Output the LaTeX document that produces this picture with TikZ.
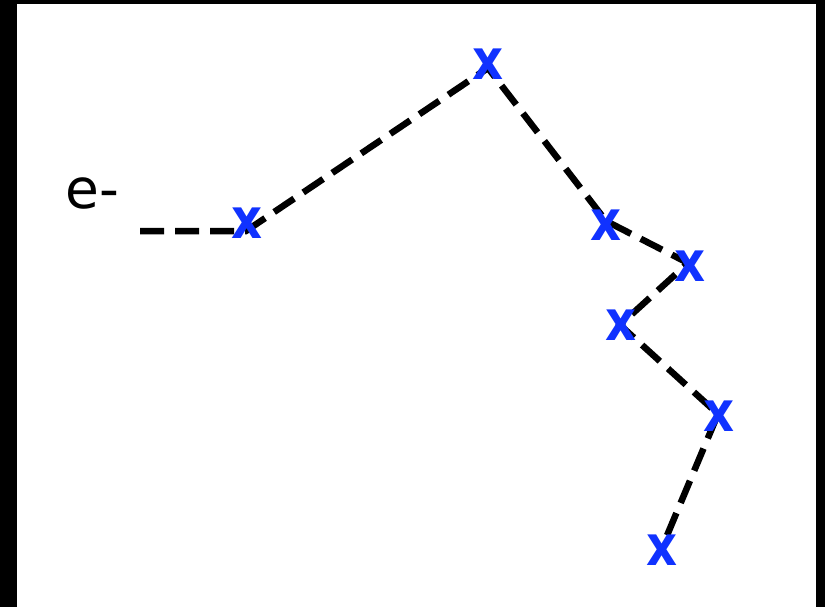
\documentclass[tikz,border=0pt]{standalone}
\usepackage{fontspec}
\setmainfont{DejaVu Sans}
\definecolor{markblue}{RGB}{16,50,255}
\tikzset{
  trail/.style={line width=6.5pt, dash pattern=on 24pt off 11pt, line cap=butt, line join=miter},
  hitmark/.style={inner sep=0pt, text=markblue, font=\bfseries\fontsize{56}{56}\selectfont, xscale=0.86},
  lbl/.style={inner sep=0pt, font=\fontsize{55}{55}\selectfont}
}
\begin{document}
\begin{tikzpicture}[x=1pt,y=-1pt]
\useasboundingbox (0,0) rectangle (825,607);
\fill[black] (0,0) rectangle (825,607);
\fill[white] (17,4) rectangle (816,607);
\node[lbl, anchor=base west] (e) at (65,208) {e-};
\coordinate (v0) at (140,231);
\coordinate (v1) at (246,231);
\coordinate (v2) at (488,68);
\coordinate (v3) at (606,221);
\coordinate (v4) at (688,263);
\coordinate (v5) at (620,325);
\coordinate (v6) at (718,414);
\coordinate (v7) at (663,545);
\draw[trail] (v0) -- (v1) -- (v2) -- (v3) -- (v4) -- (v5) -- (v6) -- (v7);
\node[hitmark] (m1) at (247,223) {x};
\node[hitmark] (m2) at (488,64) {x};
\node[hitmark] (m3) at (606,225) {x};
\node[hitmark] (m4) at (690,266) {x};
\node[hitmark] (m5) at (621,325) {x};
\node[hitmark] (m6) at (719,416) {x};
\node[hitmark] (m7) at (662,550) {x};
\end{tikzpicture}
\end{document}
